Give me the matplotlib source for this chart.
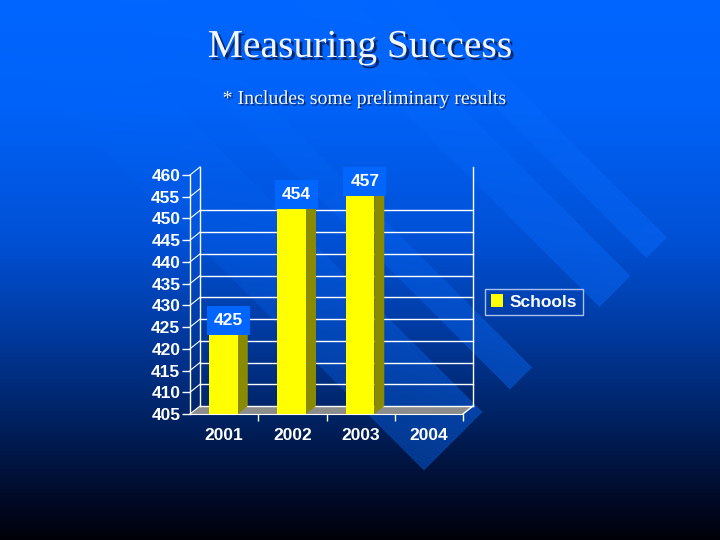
import numpy as np
import matplotlib
matplotlib.use("Agg")
import matplotlib.pyplot as plt
import matplotlib.patheffects as pe
from matplotlib.patches import Polygon, Patch

# ---------------- data ----------------
years = ["2001", "2002", "2003", "2004"]
schools = [425, 454, 457, np.nan]
y_ticks = list(range(405, 461, 5))
grid_vals = list(range(405, 451, 5))

W, H = 720, 540
YELLOW = "#ffff00"
SIDE = "#8a8a00"
WHITE = "#ffffff"
FS = 12.5

fig = plt.figure(figsize=(7.2, 5.4), dpi=100)

# ---------------- background: gradient + diagonal stripes ----------------
yy, xx = np.mgrid[0:H, 0:W].astype(float)
stops_y = [0.0, 0.2, 0.45, 0.6, 0.75, 0.9, 1.0]
stops_c = np.array([[0, 102, 255], [0, 98, 248], [0, 80, 212], [0, 60, 165],
                    [0, 38, 108], [0, 14, 48], [0, 0, 8]], dtype=float)
t = yy / (H - 1)
img = np.stack([np.interp(t, stops_y, stops_c[:, k]) for k in range(3)], axis=-1)

u = (xx + yy) / np.sqrt(2)   # along stripe
w = (xx - yy) / np.sqrt(2)   # across stripe
stripes = [(275, 304, 639), (207, 251, 640), (85, 116, 635), (-33, 50, 632)]
band_col = np.array([10, 108, 255], dtype=float)
for w_lo, w_hi, u_end in stripes:
    mask = (w >= w_lo) & (w <= w_hi) & (u <= u_end)
    a = np.clip((u - (u_end - 600)) / 600, 0, 1) ** 1.3 * 0.42 * mask
    img = img * (1 - a[..., None]) + band_col * a[..., None]

bg = fig.add_axes([0, 0, 1, 1])
bg.imshow(img.astype(np.uint8), extent=(0, W, H, 0), aspect="auto", zorder=0)
bg.set_xlim(0, W)
bg.set_ylim(H, 0)
bg.axis("off")

# ---------------- titles ----------------
shadow = [pe.withSimplePatchShadow(offset=(2, -2), shadow_rgbFace="#00205a", alpha=0.9)]
t1 = fig.text(0.5, 1 - 57 / H, "Measuring Success", ha="center", va="baseline",
              fontsize=28.5, family="Liberation Serif", color="#f2f4ff")
t1.set_path_effects(shadow)
t2 = fig.text(365 / W, 1 - 104 / H, "* Includes some preliminary results", ha="center",
              va="baseline", fontsize=14.3, family="Liberation Serif", color="#f2f4ff")
t2.set_path_effects([pe.withSimplePatchShadow(offset=(1, -1), shadow_rgbFace="#00205a", alpha=0.9)])

# ---------------- 3D-ish bar chart ----------------
ax = fig.add_axes([190 / W, (H - 414) / H, 273 / W, 239 / H])
ax.set_xlim(0, 4)
ax.set_ylim(405, 460)
ax.patch.set_visible(False)

dx = 10 / 68.25          # depth offset in x units
dy = 8 / (239 / 55)      # depth offset in y units
n = len(years)
base = 405
top = 460

# floor
ax.add_patch(Polygon([(0, base), (n, base), (n + dx, base + dy), (dx, base + dy)],
                     closed=True, fc="#8c8c8c", ec="none", zorder=1, clip_on=False))
# back wall gridlines and walls
for v in grid_vals:
    ax.plot([dx, n + dx], [v + dy, v + dy], color=WHITE, lw=1, zorder=2, clip_on=False)
ax.plot([dx, dx], [base + dy, top + dy], color=WHITE, lw=1, zorder=2, clip_on=False)
ax.plot([n + dx, n + dx], [base + dy, top + dy], color=WHITE, lw=1, zorder=2, clip_on=False)
ax.plot([n, n + dx], [base, base + dy], color=WHITE, lw=1, zorder=2, clip_on=False)
# side wall diagonals
for v in y_ticks:
    ax.plot([0, dx], [v, v + dy], color=WHITE, lw=0.8, zorder=2, clip_on=False)

# bars
bw = 0.42
for i, v in enumerate(schools):
    if np.isnan(v):
        continue
    c = i + 0.49
    l, r = c - bw / 2, c + bw / 2
    ax.add_patch(Polygon([(r, base), (r + dx, base + dy), (r + dx, v + dy), (r, v)],
                         closed=True, fc=SIDE, ec="none", zorder=3, clip_on=False))
    ax.add_patch(Polygon([(l, v), (r, v), (r + dx, v + dy), (l + dx, v + dy)],
                         closed=True, fc=YELLOW, ec="none", zorder=3, clip_on=False))
    ax.add_patch(Polygon([(l, base), (r, base), (r, v), (l, v)],
                         closed=True, fc=YELLOW, ec="none", zorder=4, clip_on=False))
    ax.text(c + dx / 2, v + 1.5, f"{v:.0f}", ha="center", va="center", fontsize=FS,
            fontweight="bold", family="Liberation Sans", color=WHITE, zorder=5,
            bbox=dict(boxstyle="square,pad=0.4", fc="#0066ff", ec="none"))

# axes styling
for s in ["top", "right"]:
    ax.spines[s].set_visible(False)
ax.spines["left"].set_color(WHITE)
ax.spines["bottom"].set_color(WHITE)
ax.spines["left"].set_linewidth(1)
ax.spines["bottom"].set_linewidth(0.8)
ax.spines["left"].set_zorder(6)

ax.set_yticks(y_ticks)
ax.set_yticklabels([str(v) for v in y_ticks])
ax.tick_params(axis="y", direction="out", length=6, width=1, color=WHITE, pad=1,
               labelcolor=WHITE, labelsize=FS)
ax.set_xticks([i + 0.5 for i in range(n)])
ax.set_xticklabels(years)
ax.tick_params(axis="x", which="major", length=0, pad=10, labelcolor=WHITE, labelsize=FS)
ax.set_xticks(list(range(1, n + 1)), minor=True)
ax.tick_params(axis="x", which="minor", direction="out", length=5, width=1, color=WHITE)
for lab in ax.get_xticklabels() + ax.get_yticklabels():
    lab.set_fontweight("bold")
    lab.set_family("Liberation Sans")

# legend
leg = fig.legend(handles=[Patch(fc=YELLOW, ec="none", label="Schools")], loc="center",
                 bbox_to_anchor=(534 / W, 1 - 302 / H), frameon=True, fancybox=False,
                 handlelength=0.7, handleheight=0.7, handletextpad=0.4, borderpad=0.3,
                 prop={"family": "Liberation Sans", "weight": "bold", "size": FS})
leg.get_frame().set_facecolor("none")
leg.get_frame().set_edgecolor("#d8e0ff")
leg.get_frame().set_linewidth(1)
for txt in leg.get_texts():
    txt.set_color(WHITE)

fig.savefig("out.png", dpi=100)
